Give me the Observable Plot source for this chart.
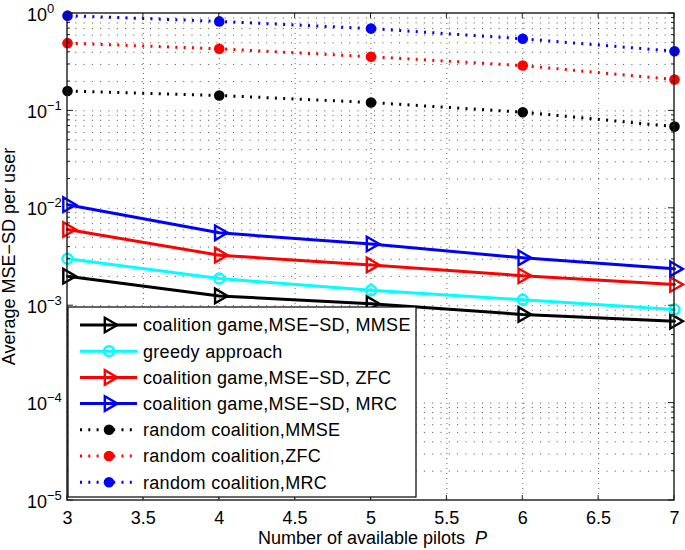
<!DOCTYPE html>
<html><head><meta charset="utf-8">
<script src="https://cdn.jsdelivr.net/npm/d3@7"></script>
<script src="https://cdn.jsdelivr.net/npm/@observablehq/plot@0.6"></script>
<style>
body{margin:0;background:#fff}
#chart svg{font-family:"Liberation Sans",Arial,Helvetica,sans-serif;background:#fff}
</style>
</head><body><div id="chart"></div>
<script>
// ---- data ----
const pilots = [3, 4, 5, 6, 7];
const cgMMSE = [0.00201, 0.00126, 0.00105, 0.000813, 0.000693];
const greedy = [0.00303, 0.00190, 0.00144, 0.00115, 0.000914];
const cgZFC  = [0.00606, 0.00330, 0.00262, 0.00203, 0.00165];
const cgMRC  = [0.0109, 0.0056, 0.0043, 0.0031, 0.00239];
const rcMMSE = [0.160, 0.144, 0.122, 0.097, 0.069];
const rcZFC  = [0.496, 0.434, 0.360, 0.292, 0.210];
const rcMRC  = [0.95, 0.83, 0.70, 0.55, 0.41];

const seriesNames = [
  "coalition game,MSE\u2212SD, MMSE",
  "greedy approach",
  "coalition game,MSE\u2212SD, ZFC",
  "coalition game,MSE\u2212SD, MRC",
  "random coalition,MMSE",
  "random coalition,ZFC",
  "random coalition,MRC"
];
const seriesColors = ["#000000", "#00ffff", "#ff0000", "#0000ff", "#000000", "#ff0000", "#0000ff"];
const seriesMarkers = ["triangle", "circle", "triangle", "triangle", "dot", "dot", "dot"];
const seriesValues = [cgMMSE, greedy, cgZFC, cgMRC, rcMMSE, rcZFC, rcMRC];

const xTicks = [3, 3.5, 4, 4.5, 5, 5.5, 6, 6.5, 7];
const yExponents = [0, -1, -2, -3, -4, -5];
const xLabel = "Number of available pilots";
const xLabelVar = "P";
const yLabel = "Average MSE\u2212SD per user";

// ---- table ----
const rows = [];
seriesNames.forEach((name, i) => seriesValues[i].forEach((v, j) =>
  rows.push({series: name, kind: seriesMarkers[i], P: pilots[j], v})));
const solid = rows.filter(d => d.kind !== "dot");
const dotted = rows.filter(d => d.kind === "dot");
const tri = rows.filter(d => d.kind === "triangle");
const circ = rows.filter(d => d.kind === "circle");

const yGrid = [];
for (let k = -5; k <= -1; k++) for (let m = 1; m <= 9; m++) { const v = m * Math.pow(10, k); if (k > -5 || m > 1) yGrid.push(v); }
const xGrid = xTicks.slice(1, -1);

const plot = Plot.plot({
  width: 685, height: 550,
  marginLeft: 67, marginRight: 11, marginTop: 13, marginBottom: 50,
  style: {fontSize: "18px", fontFamily: "Liberation Sans, Arial, sans-serif", background: "#fff"},
  x: {domain: [3, 7]},
  y: {type: "log", domain: [1e-5, 1]},
  color: {domain: seriesNames, range: seriesColors},
  marks: [
    Plot.ruleY(yGrid, {y: d => d, stroke: "#000", strokeOpacity: 0.7, strokeDasharray: "1,7.3"}),
    Plot.ruleX(xGrid, {x: d => d, stroke: "#000", strokeOpacity: 0.6, strokeDasharray: "1,4"}),
    Plot.line(solid, {x: "P", y: "v", z: "series", stroke: "series", strokeWidth: 3}),
    Plot.line(dotted, {x: "P", y: "v", z: "series", stroke: "series", strokeWidth: 3, strokeDasharray: "2,6.3", strokeLinecap: "butt"}),
    Plot.dot(tri, {x: "P", y: "v", stroke: "series", symbol: "triangle", rotate: 90, r: 5.4, strokeWidth: 2.4, fill: "none"}),
    Plot.dot(circ, {x: "P", y: "v", stroke: "series", symbol: "circle", r: 5, strokeWidth: 2.4, fill: "none"}),
    Plot.dot(dotted, {x: "P", y: "v", fill: "series", r: 5.3}),
    Plot.axisX({ticks: xTicks, tickSize: 0, tickPadding: 11, tickFormat: d => String(d), fontSize: 18, label: null}),
    Plot.axisY({ticks: [], label: null})
  ]
});
document.getElementById("chart").appendChild(plot);

// ---- decorations via the plot's scales ----
const sx = plot.scale("x"), sy = plot.scale("y");
const X = v => sx.apply(v), Y = v => sy.apply(v);
const svg = d3.select(plot);
const L = X(3), R = X(7), T = Y(1), B = Y(1e-5);
const g = svg.append("g").attr("text-anchor", "start");

// inward ticks
yGrid.concat([1e-5, 1]).forEach(v => {
  const major = Math.abs(Math.log10(v) - Math.round(Math.log10(v))) < 1e-9;
  const len = major ? 6 : 3;
  g.append("line").attr("x1", L).attr("x2", L + len).attr("y1", Y(v)).attr("y2", Y(v)).attr("stroke", "#222");
  g.append("line").attr("x1", R).attr("x2", R - len).attr("y1", Y(v)).attr("y2", Y(v)).attr("stroke", "#222");
});
xTicks.forEach(v => {
  g.append("line").attr("x1", X(v)).attr("x2", X(v)).attr("y1", B).attr("y2", B - 5).attr("stroke", "#222");
  g.append("line").attr("x1", X(v)).attr("x2", X(v)).attr("y1", T).attr("y2", T + 5).attr("stroke", "#222");
});
// frame
g.append("rect").attr("x", L).attr("y", T).attr("width", R - L).attr("height", B - T)
  .attr("fill", "none").attr("stroke", "#1a1a1a").attr("stroke-width", 1.4);

// y tick labels 10^k
yExponents.forEach(k => {
  const t = g.append("text").attr("x", L - 40).attr("y", Y(Math.pow(10, k)) + 7.5)
    .attr("text-anchor", "start").attr("font-size", 18).attr("fill", "#000");
  t.append("tspan").text("10");
  t.append("tspan").attr("font-size", 13).attr("dy", -8).text(k === 0 ? "0" : "\u2212" + (-k));
});

// axis labels
const xl = g.append("text").attr("x", (L + R) / 2 + 2).attr("y", 544).attr("text-anchor", "middle")
  .attr("font-size", 18).attr("fill", "#000");
xl.append("tspan").text(xLabel + "\u00a0\u00a0");
xl.append("tspan").attr("font-style", "italic").text(xLabelVar);
g.append("text").attr("transform", `translate(15,${(T + B) / 2}) rotate(-90)`).attr("text-anchor", "middle")
  .attr("font-size", 18).attr("fill", "#000").text(yLabel);

// legend
const lg = svg.append("g").attr("text-anchor", "start");
const lx0 = L + 1, ly0 = 307, lw = 348, lh = 190;
lg.append("rect").attr("x", lx0).attr("y", ly0).attr("width", lw).attr("height", lh)
  .attr("fill", "#fff").attr("stroke", "#000").attr("stroke-width", 1.2);
seriesNames.forEach((name, i) => {
  const cy = ly0 + 18 + i * 26.2;
  const color = seriesColors[i];
  const kind = seriesMarkers[i];
  const line = lg.append("line").attr("x1", lx0 + 12).attr("x2", lx0 + 69).attr("y1", cy).attr("y2", cy)
    .attr("stroke", color).attr("stroke-width", 3);
  const mx = lx0 + 41;
  if (kind === "dot") {
    line.attr("stroke-dasharray", "2,6.3");
    lg.append("circle").attr("cx", mx).attr("cy", cy).attr("r", 5.3).attr("fill", color);
  } else if (kind === "circle") {
    lg.append("circle").attr("cx", mx).attr("cy", cy).attr("r", 5).attr("fill", "none").attr("stroke", color).attr("stroke-width", 2.4);
  } else {
    lg.append("path").attr("d", d3.symbol(d3.symbolTriangle, Math.PI * 5.4 * 5.4)())
      .attr("transform", `translate(${mx},${cy}) rotate(90)`)
      .attr("fill", "none").attr("stroke", color).attr("stroke-width", 2.4);
  }
  lg.append("text").attr("x", lx0 + 75).attr("y", cy + 6.3).attr("text-anchor", "start").attr("font-size", 18)
    .attr("letter-spacing", "0.3px").attr("fill", "#000").text(name);
});
</script>
</body></html>
